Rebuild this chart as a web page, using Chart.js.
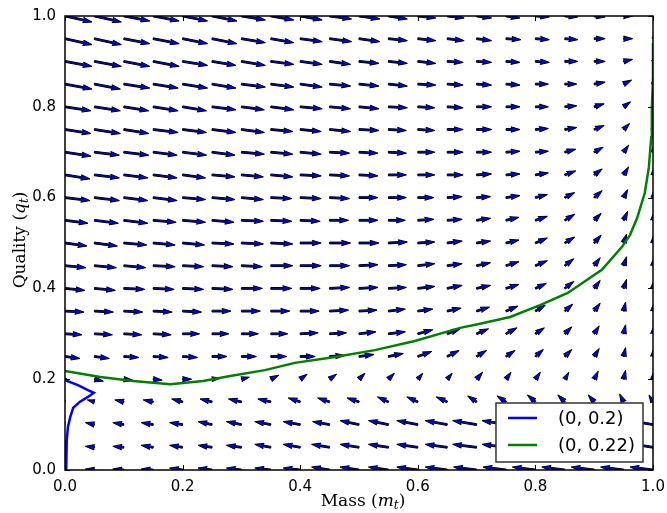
<!DOCTYPE html>
<html lang="en">

<head>
  <title>Mass / Quality phase plane</title>
  <script src="https://cdn.jsdelivr.net/npm/chart.js"></script>
  <meta charset="utf-8"/>
  <style>
    body {
      margin: 0;
      background: #fff;
    }

    #chart {
      width: 667px;
      height: 513px;
    }
  </style>
</head>

<body>

  <div id="chart">
    <canvas id="my_chart" width="667" height="513"></canvas>
  </div>

<script>
// grid of the vector field (columns = mass, rows = quality, top row first)
var massGrid = [0, 0.05, 0.1, 0.15, 0.2, 0.25, 0.3, 0.35, 0.4, 0.45, 0.5,
                0.55, 0.6, 0.65, 0.7, 0.75, 0.8, 0.85, 0.9, 0.95, 1];
var qualityGrid = [1, 0.95, 0.9, 0.85, 0.8, 0.75, 0.7, 0.65, 0.6, 0.55, 0.5,
                   0.45, 0.4, 0.35, 0.3, 0.25, 0.2, 0.15, 0.1, 0.05, 0];

// field components (same arbitrary units for both, as in a quiver plot)
var fieldU = [
  [27,27,26,26,25,25,24,23,22,22,21,19,18,17,15,14,14,13,11,9,4],
  [27,27,26,26,25,25,24,23,22,22,21,19,18,17,15,15,14,13,11,9,3],
  [27,27,26,26,25,24,24,23,22,21,20,19,18,16,15,14,14,13,11,9,2],
  [27,26,26,25,25,24,24,23,22,21,20,19,18,16,15,14,13,12,11,8,1],
  [26,26,25,25,24,24,23,23,22,21,20,19,17,16,15,14,13,12,10,7,1],
  [26,26,25,25,24,24,23,22,21,21,20,18,17,16,15,14,13,12,10,6,1],
  [26,25,25,24,24,23,23,22,21,20,19,18,17,16,15,14,13,11,9,5,1],
  [25,25,24,24,23,23,22,22,21,20,19,18,17,16,15,14,13,11,8,5,1],
  [25,25,24,24,23,23,22,21,21,20,19,18,16,15,14,14,12,10,8,4,1],
  [23,24,24,23,23,22,22,21,20,19,19,17,16,15,14,13,12,10,7,4,1],
  [22,23,23,22,22,22,22,22,21,21,20,19,17,15,14,13,12,10,7,3,1],
  [21,22,22,22,21,21,21,22,21,20,19,18,17,15,14,13,12,9,6,3,1],
  [20,21,21,21,21,21,21,21,20,20,19,18,17,15,14,13,11,9,6,3,1],
  [19,19,19,19,19,19,19,19,19,19,18,17,15,14,13,12,10,8,6,2,1],
  [17,18,18,18,17,17,17,17,18,17,17,17,15,13,12,11,9,7,5,2,1],
  [15,15,15,15,15,15,15,16,15,15,15,15,14,12,10,9,8,7,5,2,1],
  [4,9,9,9,9,8,8,8,7,7,6,6,5,5,6,5,5,4,4,2,1],
  [-6,-7,-9,-10,-11,-12,-13,-13,-12,-12,-12,-11,-11,-11,-9,-9,-8,-7,-6,-4,-4],
  [-8,-9,-11,-12,-13,-14,-15,-16,-17,-17,-19,-20,-21,-22,-24,-24,-24,-24,-24,-24,-24],
  [-8,-9,-11,-12,-13,-14,-15,-16,-17,-18,-19,-20,-21,-22,-24,-24,-25,-25,-25,-25,-25],
  [-8,-9,-11,-12,-13,-14,-15,-16,-17,-18,-19,-20,-21,-22,-23,-23,-23,-23,-23,-23,-23]
];
var fieldV = [
  [-6,-6,-5,-5,-5,-5,-4,-4,-4,-3,-3,-3,-2,-2,-2,-2,-1,-1,-1,0,0],
  [-6,-6,-5,-5,-5,-5,-4,-4,-3,-3,-3,-2,-2,-2,-2,-1,-1,-1,0,0,4],
  [-5,-5,-5,-5,-4,-4,-4,-3,-3,-3,-2,-2,-2,-1,-1,-1,-1,0,0,2,5],
  [-5,-5,-4,-4,-4,-4,-3,-3,-3,-2,-2,-2,-1,-1,-1,-1,0,0,2,4,6],
  [-4,-4,-4,-4,-4,-3,-3,-3,-2,-2,-2,-1,-1,-1,0,0,0,1,3,5,6],
  [-4,-4,-4,-3,-3,-3,-3,-2,-2,-2,-1,-1,-1,0,0,0,1,2,4,6,7],
  [-4,-3,-3,-3,-3,-3,-2,-2,-2,-1,-1,-1,0,0,0,1,1,3,5,7,7],
  [-4,-3,-3,-3,-3,-2,-2,-2,-1,-1,-1,0,0,0,1,1,2,4,6,8,7],
  [-3,-3,-3,-3,-2,-2,-2,-1,-1,-1,0,0,0,1,1,2,3,5,7,8,7],
  [-3,-3,-3,-2,-2,-2,-1,-1,-1,0,0,0,1,1,2,3,4,6,7,9,8],
  [-3,-3,-2,-2,-2,-1,-1,-1,0,0,0,1,1,2,2,3,5,6,8,9,8],
  [-2,-2,-2,-1,-1,-1,-1,0,0,0,1,1,2,2,3,4,5,7,8,9,8],
  [-2,-2,-1,-1,-1,-1,0,0,0,1,1,1,2,3,3,4,5,7,8,9,8],
  [-1,-1,-1,-1,-1,0,0,0,0,1,1,2,2,3,4,5,6,7,8,9,8],
  [-1,-1,-1,-1,0,0,0,0,1,1,2,2,4,5,5,6,6,7,8,9,8],
  [-2,-2,-1,-1,-1,0,0,0,0,1,2,3,5,6,6,6,7,7,8,9,8],
  [-1,-2,-1,-1,0,1,2,4,5,5,6,6,6,6,7,7,7,7,8,9,8],
  [2,2,2,2,3,3,3,3,4,4,4,5,5,5,6,6,7,7,7,8,7],
  [1,2,2,2,2,3,3,3,3,3,4,4,4,4,4,4,4,4,4,4,4],
  [1,1,1,2,2,2,2,3,3,3,3,3,3,3,3,3,4,4,4,4,4],
  [1,1,1,1,2,2,2,2,2,3,3,3,3,3,3,3,3,3,3,3,3]
];

// trajectories
var blueLabel = '(0, 0.2)';
var blueMass =    [0, 0.022, 0.039, 0.049, 0.039, 0.025, 0.014, 0.009, 0.005, 0.003, 0.002, 0.002];
var blueQuality = [0.198, 0.187, 0.176, 0.170, 0.161, 0.150, 0.137, 0.117, 0.095, 0.066, 0.029, 0];

var greenLabel = '(0, 0.22)';
var greenMass =    [0, 0.060, 0.116, 0.179, 0.235, 0.281, 0.340, 0.391, 0.459, 0.527, 0.595, 0.672, 0.706,
                    0.757, 0.808, 0.855, 0.913, 0.947, 0.961, 0.973, 0.986, 0.993, 0.997, 0.998, 1.0, 1.0];
var greenQuality = [0.218, 0.205, 0.196, 0.189, 0.196, 0.207, 0.220, 0.236, 0.249, 0.264, 0.284, 0.313, 0.322,
                    0.337, 0.363, 0.390, 0.441, 0.491, 0.518, 0.555, 0.610, 0.667, 0.733, 0.793, 0.866, 0.94];

var tickValues = [0, 0.2, 0.4, 0.6, 0.8, 1.0];

function toPoints(xs, ys) {
  return xs.map((v, i) => ({ x: v, y: ys[i] }));
}

// one matplotlib-style quiver arrow, lengths in shaft widths
function drawArrow(ctx, x0, y0, dx, dy, w) {
  var len = Math.hypot(dx, dy);
  if (len === 0) return;
  var L = len / w;
  var xs = [0, L - 4.5, L - 5, L, L - 5, L - 4.5, 0];
  var ys = [0.5, 0.5, 1.5, 0, -1.5, -0.5, -0.5];
  if (L < 5) {
    var s = L / 5;
    xs = [0, 0.5, 0, 5, 0, 0.5, 0].map(v => v * s);
    ys = ys.map(v => v * s);
  }
  var c = dx / len, sn = dy / len;
  ctx.beginPath();
  for (var i = 0; i < xs.length; i++) {
    var ax = xs[i] * w, ay = ys[i] * w;
    ctx.lineTo(x0 + ax * c - ay * sn, y0 + ax * sn + ay * c);
  }
  ctx.closePath();
  ctx.fill();
  ctx.stroke();
}

const quiverPlugin = {
  id: 'quiver',
  beforeDatasetsDraw(chart, args, opts) {
    const { ctx, chartArea: a, scales: { x, y } } = chart;
    ctx.save();
    ctx.beginPath();
    ctx.rect(a.left, a.top, a.right - a.left, a.bottom - a.top);
    ctx.clip();
    ctx.fillStyle = opts.fill;
    ctx.strokeStyle = opts.edge;
    ctx.lineWidth = opts.edgeWidth;
    ctx.lineJoin = 'miter';
    qualityGrid.forEach((q, r) => {
      massGrid.forEach((m, c) => {
        drawArrow(ctx, x.getPixelForValue(m), y.getPixelForValue(q),
          fieldU[r][c] * opts.pxPerUnit, -fieldV[r][c] * opts.pxPerUnit, opts.shaft);
      });
    });
    ctx.restore();
  }
};

// frame with inward ticks on all four sides
const framePlugin = {
  id: 'frame',
  afterDatasetsDraw(chart, args, opts) {
    const { ctx, chartArea: a, scales: { x, y } } = chart;
    ctx.save();
    ctx.strokeStyle = '#000';
    ctx.lineWidth = 1;
    ctx.beginPath();
    tickValues.forEach(v => {
      const px = Math.round(x.getPixelForValue(v)) + 0.5;
      ctx.moveTo(px, a.bottom); ctx.lineTo(px, a.bottom - opts.tick);
      ctx.moveTo(px, a.top); ctx.lineTo(px, a.top + opts.tick);
      const py = Math.round(y.getPixelForValue(v)) + 0.5;
      ctx.moveTo(a.left, py); ctx.lineTo(a.left + opts.tick, py);
      ctx.moveTo(a.right, py); ctx.lineTo(a.right - opts.tick, py);
    });
    ctx.stroke();
    ctx.lineWidth = 1.5;
    ctx.strokeRect(a.left, a.top, a.right - a.left, a.bottom - a.top);
    ctx.restore();
  }
};

function drawParts(ctx, parts, cx, cy) {
  var total = 0;
  parts.forEach(p => { ctx.font = p.font; p.w = ctx.measureText(p.text).width; total += p.w; });
  var xx = cx - total / 2;
  parts.forEach(p => {
    ctx.font = p.font;
    ctx.fillText(p.text, xx, cy + (p.dy || 0));
    xx += p.w;
  });
}

const titlesPlugin = {
  id: 'axisTitles',
  afterDraw(chart) {
    const { ctx, chartArea: a } = chart;
    const f = '17px "DejaVu Serif"', fi = 'italic 17px "DejaVu Serif"', fs = 'italic 12px "DejaVu Serif"';
    ctx.save();
    ctx.fillStyle = '#000';
    ctx.textBaseline = 'alphabetic';
    drawParts(ctx, [
      { text: 'Mass (', font: f }, { text: 'm', font: fi },
      { text: 't', font: fs, dy: 3 }, { text: ')', font: f }
    ], (a.left + a.right) / 2 + 4, 506);
    ctx.translate(25, (a.top + a.bottom) / 2 - 3);
    ctx.rotate(-Math.PI / 2);
    drawParts(ctx, [
      { text: 'Quality (', font: f }, { text: 'q', font: fi },
      { text: 't', font: fs, dy: 3 }, { text: ')', font: f }
    ], 0, 0);
    ctx.restore();
  }
};

// legend box in the lower right corner of the plot
const legendPlugin = {
  id: 'boxLegend',
  afterDraw(chart, args, opts) {
    const { ctx, chartArea: a } = chart;
    const sets = chart.data.datasets;
    ctx.save();
    ctx.font = opts.font;
    const tw = Math.max(...sets.map(d => ctx.measureText(d.label).width));
    const w = 12 + 29 + 21 + tw + 8;
    const h = 15 + 27 * (sets.length - 1) + 17;
    const left = a.right - 10 - w, top = a.bottom - 8 - h;
    ctx.fillStyle = '#fff';
    ctx.fillRect(left, top, w, h);
    ctx.strokeStyle = '#333';
    ctx.lineWidth = 1.5;
    ctx.strokeRect(left, top, w, h);
    ctx.textBaseline = 'middle';
    sets.forEach((d, i) => {
      const yy = top + 15 + 27 * i;
      ctx.strokeStyle = d.borderColor;
      ctx.lineWidth = 2.5;
      ctx.beginPath();
      ctx.moveTo(left + 12, yy);
      ctx.lineTo(left + 41, yy);
      ctx.stroke();
      ctx.fillStyle = '#000';
      ctx.fillText(d.label, left + 62, yy + 1);
    });
    ctx.restore();
  }
};

var phaseChart;
window.onload = function () {
  const tickFont = { family: 'DejaVu Sans', size: 15 };
  const config = {
    type: 'scatter',
    data: {
      datasets: [
        {
          label: blueLabel,
          data: toPoints(blueMass, blueQuality),
          borderColor: '#0000ff',
          borderWidth: 2.5,
          showLine: true,
          pointRadius: 0
        },
        {
          label: greenLabel,
          data: toPoints(greenMass, greenQuality),
          borderColor: '#008000',
          borderWidth: 2.5,
          showLine: true,
          pointRadius: 0
        }
      ]
    },
    options: {
      responsive: false,
      animation: false,
      layout: { padding: { left: 0, right: 14, top: 16, bottom: 0 } },
      plugins: {
        legend: { display: false },
        tooltip: { enabled: false },
        quiver: { fill: '#0000ff', edge: '#000', edgeWidth: 1, shaft: 1.8, pxPerUnit: 1 },
        frame: { tick: 5 },
        boxLegend: { font: '18px "DejaVu Sans"' }
      },
      scales: {
        x: {
          type: 'linear',
          min: 0,
          max: 1,
          afterFit: s => { s.height = 43; },
          afterBuildTicks: s => { s.ticks = tickValues.map(v => ({ value: v })); },
          grid: { display: false },
          border: { display: false },
          ticks: { font: tickFont, color: '#000', padding: 0, maxRotation: 0,
                   callback: v => v.toFixed(1) }
        },
        y: {
          type: 'linear',
          min: 0,
          max: 1,
          afterFit: s => { s.width = 65; },
          afterBuildTicks: s => { s.ticks = tickValues.map(v => ({ value: v })); },
          grid: { display: false },
          border: { display: false },
          ticks: { font: tickFont, color: '#000', padding: 1,
                   callback: v => v.toFixed(1) }
        }
      }
    },
    plugins: [quiverPlugin, framePlugin, titlesPlugin, legendPlugin]
  };

  const ctx = document.getElementById('my_chart').getContext('2d');
  phaseChart = new Chart(ctx, config);
}
</script>

</body>

</html>
